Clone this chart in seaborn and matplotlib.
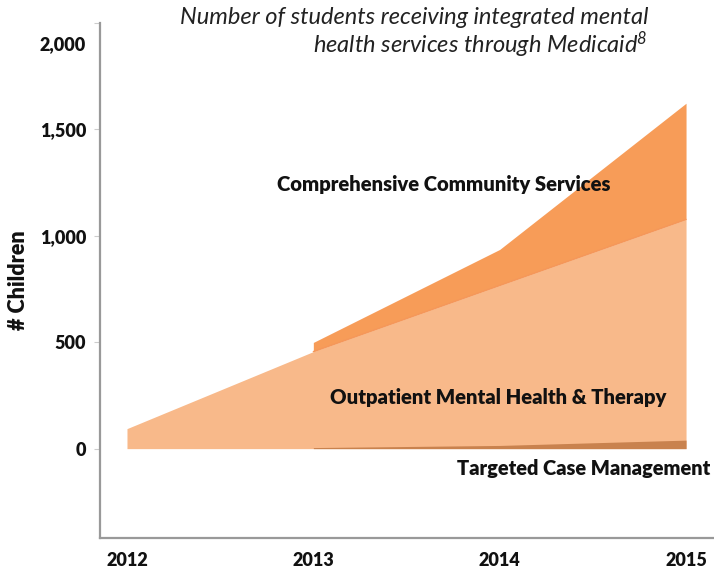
import numpy as np
import pandas as pd
import seaborn as sns
import matplotlib.pyplot as plt
import matplotlib.transforms as mtransforms

# data
years = [2012, 2013, 2014, 2015]
targeted = [np.nan, 5, 15, 40]
outpatient = [94, 451, 752, 1037]
comprehensive = [np.nan, 43, 169, 546]

df = pd.DataFrame({
    "year": years,
    "targeted": targeted,
    "outpatient": outpatient,
    "comprehensive": comprehensive,
})
df["t_top"] = df["targeted"].fillna(0)
df["o_top"] = df["t_top"] + df["outpatient"]
df["c_top"] = df["o_top"] + df["comprehensive"]

sns.set_theme(style="white")
plt.rcParams["font.family"] = ["Lato", "DejaVu Sans"]
plt.rcParams["mathtext.fontset"] = "custom"
plt.rcParams["mathtext.rm"] = "Lato:italic"
plt.rcParams["mathtext.it"] = "Lato:italic"

fig = plt.figure(figsize=(7.14, 5.72), dpi=100)
ax = fig.add_axes([0.140, 0.0594, 0.860, 0.9004])

light = "#F8B98A"
mid = "#F79C58"
dark = "#C9824E"

ax.fill_between(df["year"], 0, df["o_top"], color=light, lw=0)
later = df[df["year"] >= 2013]
ax.fill_between(later["year"], later["o_top"], later["c_top"], color=mid, lw=0)
ax.fill_between(later["year"], 0, later["t_top"], color=dark, lw=0)
sns.lineplot(data=later, x="year", y="o_top", ax=ax, color="#F5975A", lw=1)

ax.set_xlim(2011.855, 2015.15)
ax.set_ylim(-420, 2000)
ax.set_xticks(years)
ax.set_xticklabels([str(y) for y in years])
ax.set_yticks([0, 500, 1000, 1500, 2000])
ax.set_yticklabels(["0", "500", "1,000", "1,500", "2,000"])

for lab in ax.get_xticklabels() + ax.get_yticklabels():
    lab.set_fontweight("heavy")
    lab.set_fontsize(13)
    lab.set_color("#111111")
ax.tick_params(axis="x", length=0, pad=10)
ax.tick_params(axis="y", length=4, width=0.8, color="#cccccc", pad=6, left=True)
# top label sits a bit below its tick in the original
top_lab = ax.get_yticklabels()[-1]
top_lab.set_transform(top_lab.get_transform() + mtransforms.ScaledTranslation(0, -0.2, fig.dpi_scale_trans))

ax.set_xlabel("")
ax.set_ylabel("# Children", fontsize=15.5, fontweight="heavy", color="#111111", labelpad=8)

for side in ["top", "right"]:
    ax.spines[side].set_visible(False)
for side in ["left", "bottom"]:
    ax.spines[side].set_color("#999999")
    ax.spines[side].set_linewidth(1.6)

ax.text(2013.7, 1240, "Comprehensive Community Services", ha="center", va="center",
        fontsize=14.6, fontweight="heavy", color="#111111")
ax.text(2013.99, 240, "Outpatient Mental Health & Therapy", ha="center", va="center",
        fontsize=14.6, fontweight="heavy", color="#111111")
ax.text(2014.45, -95, "Targeted Case Management", ha="center", va="center",
        fontsize=14.4, fontweight="heavy", color="#111111")

fig.text(648 / 714, 1 - 18 / 572, "Number of students receiving integrated mental",
         ha="right", va="center", fontsize=17, style="italic", color="#222222")
fig.text(648 / 714, 1 - 45 / 572, r"health services through Medicaid$^{8}$",
         ha="right", va="center", fontsize=17, style="italic", color="#222222")

fig.savefig("out.png", dpi=100)
